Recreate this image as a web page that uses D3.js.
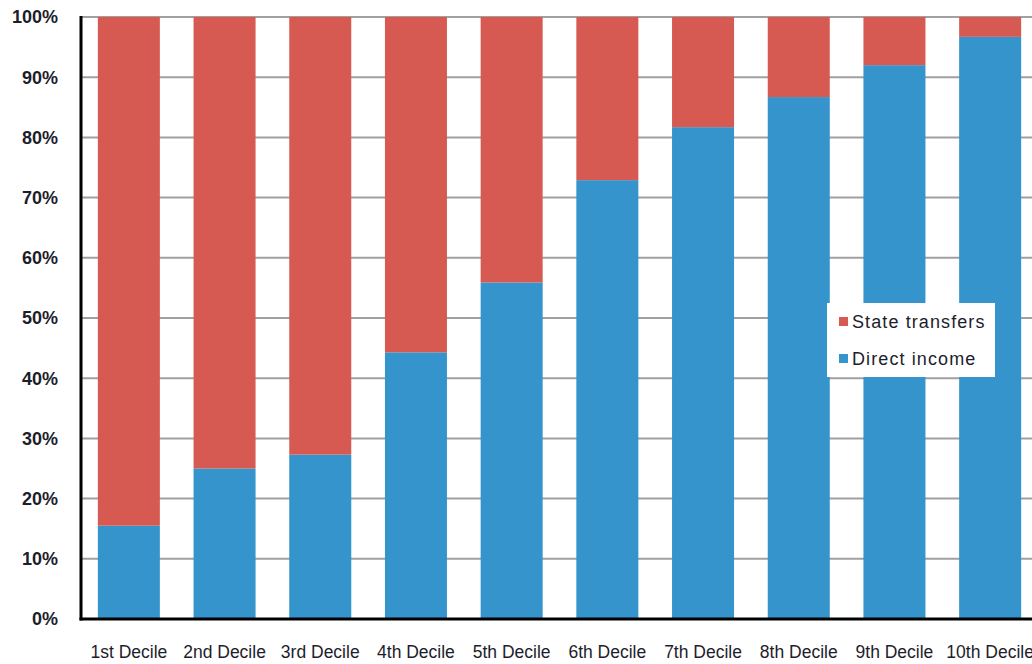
<!DOCTYPE html>
<html>
<head>
<meta charset="utf-8">
<script src="https://cdn.jsdelivr.net/npm/d3@7"></script>
<style>
  body { margin: 0; background: #fff; }
  svg text { font-family: "Liberation Sans", Arial, sans-serif; fill: #1d1d2b; }
</style>
</head>
<body>
<svg id="chart" width="1032" height="664"></svg>
<script>
var deciles = ["1st Decile", "2nd Decile", "3rd Decile", "4th Decile", "5th Decile",
               "6th Decile", "7th Decile", "8th Decile", "9th Decile", "10th Decile"];
var directIncome = [15.5, 25, 27.3, 44.3, 55.9, 72.9, 81.7, 86.7, 92, 96.7];
var stateTransfers = directIncome.map(function(d){ return 100 - d; });
var yTicks = [0, 10, 20, 30, 40, 50, 60, 70, 80, 90, 100];

var colors = { direct: "#3594cc", state: "#d65a51" };

var plotLeft = 81, plotTop = 17, plotBottom = 619, step = 95.7;

var svg = d3.select("#chart");

var x = d3.scaleBand()
  .domain(deciles)
  .range([plotLeft, plotLeft + step * deciles.length])
  .paddingInner(0.352)
  .paddingOuter(0.176);

var y = d3.scaleLinear().domain([0, 100]).range([plotBottom, plotTop]);

// gridlines
svg.append("g")
  .selectAll("line")
  .data(yTicks.filter(function(d){ return d > 0; }))
  .enter()
  .append("line")
  .attr("x1", plotLeft)
  .attr("x2", 1032)
  .attr("y1", function(d){ return y(d); })
  .attr("y2", function(d){ return y(d); })
  .attr("stroke", "#a0a0a0")
  .attr("stroke-width", 2);

// stacked bars
var stacked = d3.stack().keys(["direct", "state"])(deciles.map(function(d, i){
  return { decile: d, direct: directIncome[i], state: stateTransfers[i] };
}));

svg.append("g")
  .selectAll("g")
  .data(stacked)
  .enter()
  .append("g")
  .attr("fill", function(d){ return colors[d.key]; })
  .selectAll("rect")
  .data(function(d){ return d; })
  .enter()
  .append("rect")
  .attr("x", function(d){ return x(d.data.decile); })
  .attr("width", x.bandwidth())
  .attr("y", function(d){ return y(d[1]); })
  .attr("height", function(d){ return y(d[0]) - y(d[1]); });

// axis lines
svg.append("line")
  .attr("x1", plotLeft).attr("x2", plotLeft)
  .attr("y1", plotTop - 1).attr("y2", plotBottom + 1.5)
  .attr("stroke", "#000").attr("stroke-width", 3);
svg.append("line")
  .attr("x1", plotLeft - 1.5).attr("x2", 1032)
  .attr("y1", plotBottom).attr("y2", plotBottom)
  .attr("stroke", "#000").attr("stroke-width", 3);

// y tick labels
svg.append("g")
  .selectAll("text")
  .data(yTicks)
  .enter()
  .append("text")
  .attr("x", 58)
  .attr("y", function(d){ return y(d); })
  .attr("dy", "0.36em")
  .attr("text-anchor", "end")
  .style("font-size", "18px")
  .style("font-weight", "bold")
  .text(function(d){ return d + "%"; });

// x labels
svg.append("g")
  .selectAll("text")
  .data(deciles)
  .enter()
  .append("text")
  .attr("x", function(d){ return x(d) + x.bandwidth() / 2; })
  .attr("y", 658)
  .attr("text-anchor", "middle")
  .style("font-size", "17.5px")
  .text(function(d){ return d; });

// legend
var legend = svg.append("g").attr("transform", "translate(827,303)");
legend.append("rect")
  .attr("width", 168).attr("height", 74)
  .attr("fill", "#fff");
var legendItems = [
  { label: "State transfers", color: colors.state },
  { label: "Direct income", color: colors.direct }
];
legendItems.forEach(function(d, i){
  legend.append("rect")
    .attr("x", 12).attr("y", 14 + i * 37)
    .attr("width", 9).attr("height", 9)
    .attr("fill", d.color);
  legend.append("text")
    .attr("x", 25).attr("y", 19 + i * 37)
    .attr("dy", "0.36em")
    .style("font-size", "18px")
    .style("letter-spacing", "1.1px")
    .text(d.label);
});
</script>
</body>
</html>
